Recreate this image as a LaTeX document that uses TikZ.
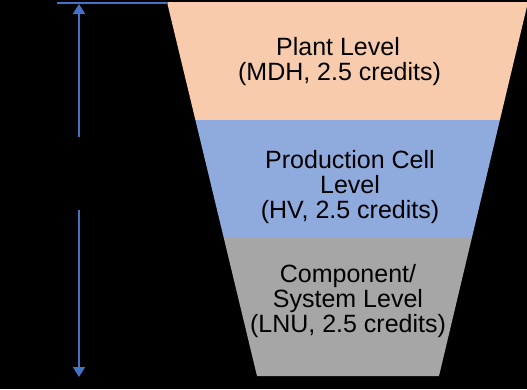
\documentclass[tikz,border=0pt]{standalone}
\usepackage{fontspec}
\setmainfont{Liberation Sans}
\usetikzlibrary{arrows.meta}
\definecolor{peach}{HTML}{F8CBAD}
\definecolor{midblue}{HTML}{8FAADC}
\definecolor{midgray}{HTML}{A6A6A6}
\definecolor{arrowblue}{HTML}{4472C4}
\tikzset{
  lbl/.style={anchor=base, inner sep=0pt, font=\fontsize{25}{25}\selectfont, text=black},
  conn/.style={draw=arrowblue, line width=2pt},
  tipped/.style={conn, -{Triangle[width=12pt,length=10pt]}}
}
\begin{document}
\begin{tikzpicture}[x=1pt,y=-1pt]
\fill[black] (0,0) rectangle (527,389);
\useasboundingbox (0,0) rectangle (527,389);
% funnel edges: left (167,2)-(257,376), right (528,2)-(439,376)
\fill[peach] (167,2) -- (528,2) -- (499.9,120) -- (195.4,120) -- cycle;
\fill[midblue] (195.4,120) -- (499.9,120) -- (471.8,238) -- (223.8,238) -- cycle;
\fill[midgray] (223.8,238) -- (471.8,238) -- (439,376) -- (257,376) -- cycle;
% texts
\node[lbl] (p1) at (338,55) {Plant Level};
\node[lbl] (p2) at (339.5,80) {(MDH, 2.5 credits)};
\node[lbl] (m1) at (350,168) {Production Cell};
\node[lbl] (m2) at (350,193) {Level};
\node[lbl] (m3) at (350,218) {(HV, 2.5 credits)};
\node[lbl] (c1) at (348,282) {Component/};
\node[lbl] (c2) at (348,307) {System Level};
\node[lbl] (c3) at (348,332) {(LNU, 2.5 credits)};
% top line and arrows
\coordinate (lineL) at (57,3);
\coordinate (lineR) at (168,3);
\draw[conn] (lineL) -- (lineR);
\coordinate (upS) at (79,137);
\coordinate (upE) at (79,4);
\coordinate (dnS) at (79,210);
\coordinate (dnE) at (79,377);
\draw[tipped] (upS) -- (upE);
\draw[tipped] (dnS) -- (dnE);
\end{tikzpicture}
\end{document}
